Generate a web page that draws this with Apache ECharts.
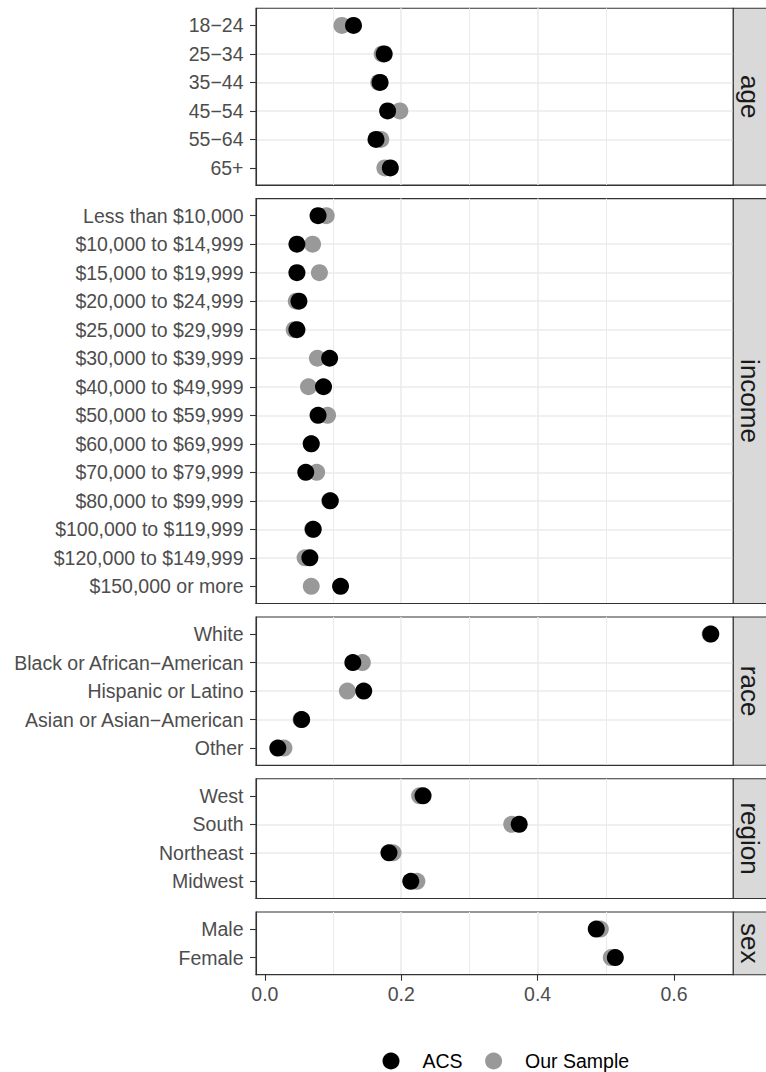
<!DOCTYPE html>
<html>
<head>
<meta charset="utf-8">
<title>ACS vs Our Sample</title>
<script src="https://cdn.jsdelivr.net/npm/echarts@6/dist/echarts.min.js"></script>
<style>
  html, body { margin: 0; padding: 0; background: #ffffff; }
  #chart { width: 766px; height: 1072px; }
</style>
</head>
<body>
<div id="chart"></div>
<script>
// ---- data: share of each group, ACS benchmark vs. our sample ----
const ageCats = ['18−24', '25−34', '35−44', '45−54', '55−64', '65+'];
const ageACS = [0.130, 0.175, 0.169, 0.180, 0.163, 0.184];
const ageSample = [0.113, 0.172, 0.167, 0.198, 0.170, 0.176];

const incomeCats = [
  'Less than $10,000', '$10,000 to $14,999', '$15,000 to $19,999',
  '$20,000 to $24,999', '$25,000 to $29,999', '$30,000 to $39,999',
  '$40,000 to $49,999', '$50,000 to $59,999', '$60,000 to $69,999',
  '$70,000 to $79,999', '$80,000 to $99,999', '$100,000 to $119,999',
  '$120,000 to $149,999', '$150,000 or more'
];
const incomeACS = [0.078, 0.047, 0.047, 0.050, 0.047, 0.095, 0.086, 0.078, 0.068, 0.060, 0.096, 0.071, 0.066, 0.111];
const incomeSample = [0.090, 0.070, 0.080, 0.046, 0.043, 0.077, 0.064, 0.092, 0.068, 0.076, 0.095, 0.070, 0.059, 0.068];

const raceCats = ['White', 'Black or African−American', 'Hispanic or Latino', 'Asian or Asian−American', 'Other'];
const raceACS = [0.654, 0.129, 0.145, 0.054, 0.019];
const raceSample = [0.653, 0.143, 0.121, 0.053, 0.028];

const regionCats = ['West', 'South', 'Northeast', 'Midwest'];
const regionACS = [0.232, 0.373, 0.182, 0.214];
const regionSample = [0.227, 0.362, 0.188, 0.223];

const sexCats = ['Male', 'Female'];
const sexACS = [0.486, 0.514];
const sexSample = [0.492, 0.508];

const xTicks = [0, 0.2, 0.4, 0.6];
const seriesNames = ['ACS', 'Our Sample'];

// ---- facets, in drawing order ----
const panels = [
  { name: 'age', cats: ageCats, acs: ageACS, sample: ageSample },
  { name: 'income', cats: incomeCats, acs: incomeACS, sample: incomeSample },
  { name: 'race', cats: raceCats, acs: raceACS, sample: raceSample },
  { name: 'region', cats: regionCats, acs: regionACS, sample: regionSample },
  { name: 'sex', cats: sexCats, acs: sexACS, sample: sexSample }
];

// ---- layout ----
const FONT = '"Liberation Sans", Arial, Helvetica, sans-serif';
const X_MIN = -0.013, X_MAX = 0.687;
const PANEL_LEFT = 256, PANEL_RIGHT = 733.3, STRIP_W = 34;
const TOP = 8.3, BOTTOM = 974.7, GAP = 13.5;
const EXPAND = 0.6; // discrete padding on each side of a facet, in category units
const totalUnits = panels.reduce((s, p) => s + p.cats.length - 1 + 2 * EXPAND, 0);
const unit = (BOTTOM - TOP - GAP * (panels.length - 1)) / totalUnits;

const ACS_COLOR = '#000000';
const SAMPLE_COLOR = '#999999';
const GRID_COLOR = '#EBEBEB';
const FRAME_COLOR = '#333333';
const DOT = 17;

const grids = [], xAxes = [], yAxes = [], series = [], graphics = [];
let y = TOP;
panels.forEach((p, i) => {
  const n = p.cats.length;
  const h = (n - 1 + 2 * EXPAND) * unit;
  const isLast = i === panels.length - 1;
  const idx = p.cats.map((_, j) => j + 1);

  grids.push({
    left: PANEL_LEFT, top: y, width: PANEL_RIGHT - PANEL_LEFT, height: h,
    show: true, backgroundColor: '#ffffff',
    borderColor: FRAME_COLOR, borderWidth: 1.1,
    containLabel: false, outerBoundsMode: 'none'
  });

  xAxes.push({
    gridIndex: i, type: 'value', position: 'bottom', min: X_MIN, max: X_MAX,
    minInterval: 0.2, maxInterval: 0.2,
    axisLine: { show: true, onZero: false, lineStyle: { color: FRAME_COLOR, width: 1.1 } },
    axisTick: { show: isLast, customValues: xTicks, length: 6, lineStyle: { color: FRAME_COLOR, width: 1.1 } },
    axisLabel: {
      show: isLast, customValues: xTicks, margin: 9,
      formatter: v => v.toFixed(1),
      fontFamily: FONT, fontSize: 19.5, color: '#4D4D4D'
    },
    splitLine: { show: true, showMinLine: false, showMaxLine: false, lineStyle: { color: GRID_COLOR, width: 1.5 } },
    minorTick: { show: false, splitNumber: 2 },
    minorSplitLine: { show: true, lineStyle: { color: GRID_COLOR, width: 1.0 } }
  });

  yAxes.push({
    gridIndex: i, type: 'value', position: 'left', inverse: true,
    min: 1 - EXPAND, max: n + EXPAND,
    minInterval: 1, maxInterval: 1,
    axisLine: { show: true, onZero: false, lineStyle: { color: FRAME_COLOR, width: 1.1 } },
    axisTick: { show: true, customValues: idx, length: 6, lineStyle: { color: FRAME_COLOR, width: 1.1 } },
    axisLabel: {
      customValues: idx, margin: 12.5,
      formatter: v => p.cats[Math.round(v) - 1] || '',
      fontFamily: FONT, fontSize: 19.5, color: '#4D4D4D'
    },
    splitLine: { show: true, showMinLine: false, showMaxLine: false, lineStyle: { color: GRID_COLOR, width: 1.5 } }
  });

  series.push({
    type: 'scatter', name: 'Our Sample', xAxisIndex: i, yAxisIndex: i,
    data: p.sample.map((v, j) => [v, j + 1]),
    symbol: 'circle', symbolSize: DOT, z: 2,
    itemStyle: { color: SAMPLE_COLOR, opacity: 1 },
    emphasis: { disabled: true }, silent: true
  });
  series.push({
    type: 'scatter', name: 'ACS', xAxisIndex: i, yAxisIndex: i,
    data: p.acs.map((v, j) => [v, j + 1]),
    symbol: 'circle', symbolSize: DOT, z: 3,
    itemStyle: { color: ACS_COLOR, opacity: 1 },
    emphasis: { disabled: true }, silent: true
  });

  // facet strip on the right
  graphics.push({
    type: 'rect', silent: true, z: 10,
    shape: { x: PANEL_RIGHT, y: y, width: STRIP_W, height: h },
    style: { fill: '#D9D9D9', stroke: FRAME_COLOR, lineWidth: 1.1 }
  });
  graphics.push({
    type: 'text', silent: true, z: 11,
    x: PANEL_RIGHT + 17, y: y + h / 2, rotation: -Math.PI / 2,
    style: {
      text: p.name, fill: '#1A1A1A', fontFamily: FONT, fontSize: 26,
      align: 'center', verticalAlign: 'middle'
    }
  });

  y += h + GAP;
});

const chart = echarts.init(document.getElementById('chart'), null, { renderer: 'svg' });
chart.setOption({
  animation: false,
  backgroundColor: '#ffffff',
  grid: grids,
  xAxis: xAxes,
  yAxis: yAxes,
  series: series,
  legend: {
    data: seriesNames,
    left: 382.5, top: 1051, padding: 0,
    icon: 'circle', itemWidth: 17, itemHeight: 17, itemGap: 22.5,
    selectedMode: false,
    textStyle: {
      fontFamily: FONT, fontSize: 19.5, color: '#000000',
      lineHeight: 20, padding: [0, 0, 0, 18]
    }
  },
  graphic: graphics
});
</script>
</body>
</html>
